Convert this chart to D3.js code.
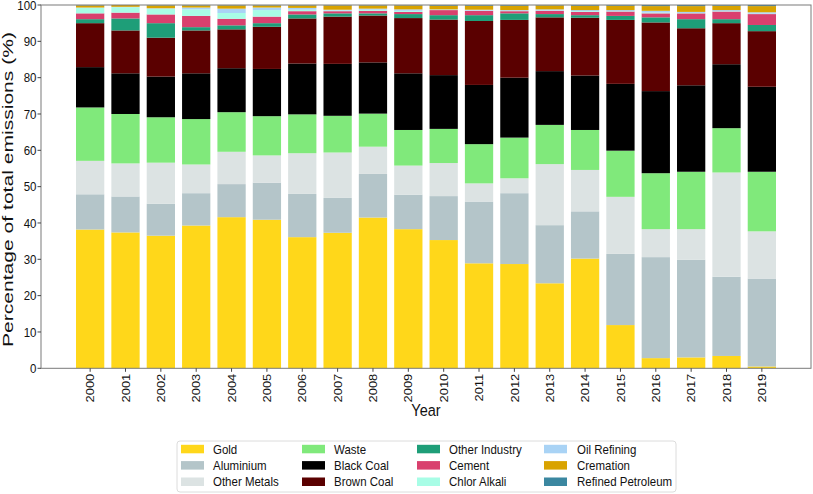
<!DOCTYPE html>
<html><head><meta charset="utf-8">
<script src="https://cdn.jsdelivr.net/npm/d3@7"></script>
<style>body{margin:0;background:#fff}svg{display:block}text{font-family:"Liberation Sans",Arial,sans-serif;fill:#111}</style>
</head><body><svg id="c" width="813" height="494"></svg>
<script>
const years = ["2000","2001","2002","2003","2004","2005","2006","2007","2008","2009","2010","2011","2012","2013","2014","2015","2016","2017","2018","2019"];
const categories = ["Gold","Aluminium","Other Metals","Waste","Black Coal","Brown Coal","Other Industry","Cement","Chlor Alkali","Oil Refining","Cremation","Refined Petroleum"];
const gold        = [38.2,37.4,36.5,39.3,41.6,40.9,36.1,37.3,41.5,38.3,35.3,28.9,28.7,23.4,30.2,11.9, 2.8, 3.0, 3.4, 0.5];
const aluminium   = [ 9.7, 9.9, 8.8, 8.9, 9.1,10.2,11.9, 9.6,12.0, 9.5,12.1,17.0,19.5,16.0,13.0,19.6,27.8,26.9,21.8,24.2];
const otherMetals = [ 9.2, 9.1,11.3, 7.9, 8.9, 7.5,11.2,12.5, 7.5, 8.0, 9.1, 5.0, 4.1,16.8,11.4,15.7, 7.7, 8.4,28.7,13.0];
const waste       = [14.7,13.6,12.5,12.5,10.9,10.8,10.7,10.1, 9.1, 9.8, 9.4,10.8,11.2,10.8,11.0,12.7,15.4,15.8,12.2,16.4];
const blackCoal   = [11.1,11.2,11.2,12.6,12.1,13.0,14.0,14.3,14.1,15.6,14.8,16.3,16.5,14.8,15.0,18.4,22.6,23.8,17.6,23.4];
const brownCoal   = [12.1,11.8,10.7,11.8,10.7,11.6,12.4,13.0,12.9,15.2,15.3,17.6,15.9,14.8,15.9,17.6,18.9,15.7,11.3,15.3];
const otherInd    = [ 1.1, 3.3, 4.0, 0.9, 1.1, 1.0, 1.1, 0.9, 0.6, 1.1, 1.2, 1.6, 1.8, 0.9, 0.7, 1.1, 1.4, 2.5, 1.1, 1.7];
const cement      = [ 1.6, 1.6, 2.4, 3.1, 1.8, 1.8, 0.9, 0.6, 0.7, 0.6, 1.4, 1.2, 0.6, 0.9, 0.9, 1.2, 1.1, 1.6, 2.1, 3.0];
const chlorAlkali = [ 1.5, 1.5, 1.6, 1.8, 1.6, 1.8, 0.4, 0.2, 0.3, 0.3, 0.1, 0.1, 0.1, 0.1, 0.2, 0.1, 0.2, 0.1, 0.1, 0.1];
const oilRefining = [ 0.1, 0.1, 0.1, 0.5, 1.2, 0.7, 0.5, 0.2, 0.3, 0.4, 0.1, 0.2, 0.2, 0.3, 0.3, 0.3, 0.5, 0.3, 0.3, 0.4];
const cremation   = [ 0.6, 0.5, 0.8, 0.6, 0.9, 0.6, 0.7, 1.2, 0.9, 1.1, 1.0, 1.1, 1.2, 1.1, 1.2, 1.2, 1.3, 1.6, 1.2, 1.7];
const refinedPet  = [ 0.1, 0.0, 0.1, 0.1, 0.1, 0.1, 0.1, 0.1, 0.1, 0.1, 0.2, 0.2, 0.2, 0.1, 0.2, 0.2, 0.3, 0.3, 0.2, 0.3];
const yTicks = [0,10,20,30,40,50,60,70,80,90,100];
const colors = ["#FFD71A","#B4C5C9","#DCE3E3","#80E97B","#000000","#5A0000","#1E9E78","#D9406E","#A8FDE6","#A9D3F5","#D9A300","#3B87A0"];

const seriesArrays = [gold,aluminium,otherMetals,waste,blackCoal,brownCoal,otherInd,cement,chlorAlkali,oilRefining,cremation,refinedPet];
const table = years.map((y,i)=>{const r={year:y}; categories.forEach((c,k)=>r[c]=seriesArrays[k][i]); return r;});

const svg = d3.select("#c");
const L=41, R=811, T=5, B=368.3;
const x = d3.scaleBand().domain(years).range([L,R]).paddingInner(0.2).paddingOuter(0.99);
const y = d3.scaleLinear().domain([0,100]).range([B,T]);
const color = d3.scaleOrdinal().domain(categories).range(colors);
const SY = 1.12;

const stacked = d3.stack().keys(categories)(table);
svg.append("g").selectAll("g").data(stacked).join("g")
  .attr("fill", d=>color(d.key))
  .selectAll("rect").data(d=>d).join("rect")
  .attr("x", d=>x(d.data.year))
  .attr("width", x.bandwidth())
  .attr("y", d=>y(d[1]))
  .attr("height", d=>Math.max(0, y(d[0])-y(d[1])));

// frame
const frame = svg.append("g").attr("stroke","#7a7a7a").attr("stroke-width",1).attr("fill","none");
frame.append("rect").attr("x",L).attr("y",T).attr("width",R-L).attr("height",B-T);

// y axis
const ya = svg.append("g");
yTicks.forEach(t=>{
  ya.append("line").attr("x1",L-3.5).attr("x2",L).attr("y1",y(t)).attr("y2",y(t)).attr("stroke","#444");
  ya.append("text").attr("transform",`translate(${L-4.5},${y(t)}) scale(1,${SY})`)
    .attr("text-anchor","end").attr("dy","0.36em").style("font-size","11.5px").text(t);
});
// x axis
const xa = svg.append("g");
years.forEach(yr=>{
  const cx = x(yr)+x.bandwidth()/2;
  xa.append("line").attr("x1",cx).attr("x2",cx).attr("y1",B).attr("y2",B+3.5).attr("stroke","#444");
  xa.append("text").attr("transform",`translate(${cx},${B+5.5}) scale(1,${SY}) rotate(-90)`)
    .attr("text-anchor","end").attr("dy","0.36em").style("font-size","11.5px").text(yr);
});
svg.append("text").attr("transform",`translate(${(L+R)/2},416) scale(1,${SY})`).attr("text-anchor","middle")
  .style("font-size","14.5px").text("Year");
svg.append("text").attr("transform",`translate(12.5,189.5) rotate(-90)`).attr("text-anchor","middle")
  .style("font-size","15px").attr("textLength",315).attr("lengthAdjust","spacingAndGlyphs")
  .text("Percentage of total emissions (%)");

// legend
const lg = svg.append("g");
lg.append("rect").attr("x",177).attr("y",441).attr("width",499).attr("height",51).attr("rx",3)
  .attr("fill","#fff").attr("stroke","#dcdcdc");
const colX = [181,302,417,544], textX=[213,334,449,577], rowY=[449,465.3,481.7];
categories.forEach((c,k)=>{
  const col=Math.floor(k/3), row=k%3;
  lg.append("rect").attr("x",colX[col]).attr("y",rowY[row]-4.2).attr("width",23).attr("height",8.5).attr("fill",color(c));
  lg.append("text").attr("transform",`translate(${textX[col]},${rowY[row]}) scale(1,${SY})`)
    .attr("dy","0.36em").style("font-size","11.5px").text(c);
});
</script></body></html>
